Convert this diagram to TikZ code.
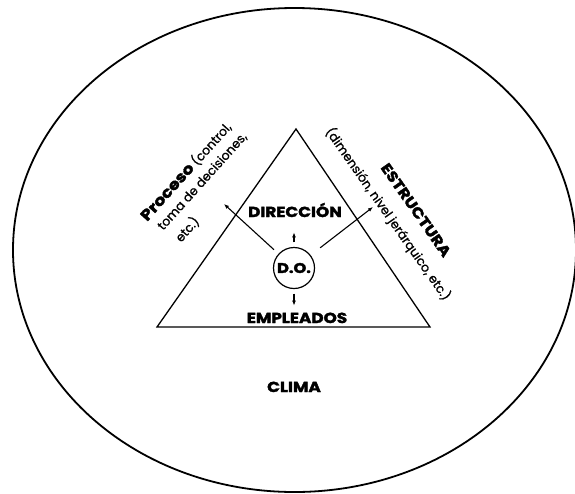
\documentclass[tikz,border=0pt]{standalone}
\usepackage{fontspec}
\setmainfont[FakeBold=1.0]{Poppins}
\newfontfamily\capfont[FakeStretch=1.16,FakeBold=2.4]{Poppins}
\usetikzlibrary{arrows.meta,shapes.geometric}
\tikzset{
  caplabel/.style={inner sep=0pt, font=\capfont\bfseries\fontsize{14.5}{16}\selectfont},
  smalltext/.style={inner sep=0pt, font=\fontsize{12.5}{15}\selectfont},
  proctext/.style={smalltext, rotate=48, anchor=base west},
  arr/.style={line width=1.1pt, -{Latex[length=5pt,width=4pt]}},
  outline/.style={line width=1.8pt},
  tri/.style={line width=1.3pt, line join=miter}
}
\begin{document}
\begin{tikzpicture}[x=1pt,y=-1pt]
\useasboundingbox (0,0) rectangle (575,493);
% outer ellipse (climate)
\node[outline, draw, ellipse, minimum width=563pt, minimum height=484pt, inner sep=0pt] (clima) at (294.5,250) {};
% triangle
\coordinate (apex) at (296,129);
\coordinate (bl) at (157,327);
\coordinate (br) at (430,327);
\draw[tri] (apex) -- (bl) -- (br) -- cycle;
% labels
\node[caplabel, anchor=base] (dir) at (295,217) {DIRECCIÓN};
\node[caplabel, anchor=base] (emp) at (297,323) {EMPLEADOS};
\node[caplabel, anchor=base] (climatext) at (294,392) {CLIMA};
\node[draw, circle, line width=1.2pt, minimum size=41pt, inner sep=0pt,
      font=\capfont\bfseries\fontsize{14}{15}\selectfont] (do) at (294,268) {D.O.};
% rotated texts (left side)
\node[proctext] (proc1) at (147,222)
  {{\capfont\bfseries\fontsize{15}{15}\selectfont Proceso} (control,};
\node[proctext] (proc2) at (163,231) {toma de decisiones,};
\node[proctext] (proc3) at (181,243) {etc.)};
% rotated texts (right side)
\node[caplabel, rotate=-55] (est) at (416,210) {ESTRUCTURA};
\node[smalltext, rotate=-55] (estdet) at (388,214) {(dimensión, nivel jerárquico, etc.)};
% arrow ends
\coordinate (pl) at (224,204);
\coordinate (pr) at (373,207);
\draw[arr, shorten <=6pt] (do) -- (pl);
\draw[arr, shorten <=12pt] (do) -- (pr);
\draw[arr, shorten <=4.5pt] (do.north) -- ++(0,-14.5);
\draw[arr, shorten <=4.5pt] (do.south) -- ++(0,16.5);
\end{tikzpicture}
\end{document}
